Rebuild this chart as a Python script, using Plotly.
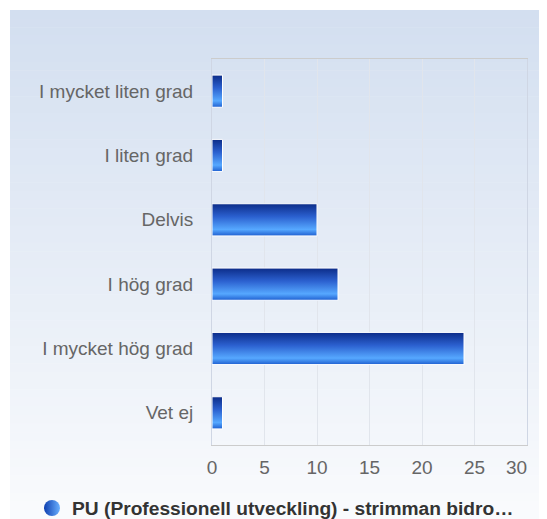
import plotly.graph_objects as go

categories = ["I mycket liten grad", "I liten grad", "Delvis", "I hög grad", "I mycket hög grad", "Vet ej"]
values = [1, 1, 10, 12, 24, 1]
x_ticks = [0, 5, 10, 15, 20, 25, 30]
legend_name = "PU (Professionell utveckling) - strimman bidro…"

W, H = 547, 519
ML, MR, MT, MB = 204, 28, 51, 82
PW, PH = W - ML - MR, H - MT - MB

fig = go.Figure()

half = 0.25
# gradient runs bottom (0) to top (1) on screen
bar_scale = [[0, "#1f5fd0"], [0.2, "#56a8ff"], [0.6, "#2b60cf"], [1, "#0c2c88"]]
for i, (c, v) in enumerate(zip(categories, values)):
    fig.add_trace(go.Scatter(
        x=[0, v, v, 0, 0],
        y=[i - half, i - half, i + half, i + half, i - half],
        mode="lines", fill="toself",
        line=dict(color="white", width=1),
        fillgradient=dict(type="vertical", colorscale=bar_scale),
        showlegend=False, hoverinfo="skip", name=c,
    ))

fig.add_trace(go.Scatter(
    x=[None], y=[None], mode="markers", name=legend_name,
    marker=dict(size=16, color="#0e3fb0", symbol="circle",
                gradient=dict(type="horizontal", color="#6ab0ff"),
                line=dict(width=0)),
    showlegend=True,
))

# background gradient strips
top = (211, 223, 240)
bot = (250, 251, 253)
n = 60
y_top_px, y_bot_px = 2, H
for k in range(n):
    t = k / (n - 1)
    col = tuple(round(top[j] + (bot[j] - top[j]) * t) for j in range(3))
    p0 = y_top_px + (y_bot_px - y_top_px) * k / n
    p1 = y_top_px + (y_bot_px - y_top_px) * (k + 1) / n + 0.5
    fig.add_shape(type="rect", xref="paper", yref="paper",
                  x0=(2 - ML) / PW, x1=(W + 5 - ML) / PW,
                  y0=(H - MB - p1) / PH, y1=(H - MB - p0) / PH,
                  fillcolor="rgb(%d,%d,%d)" % col, line=dict(width=0),
                  layer="below")

tick_text = [str(t) for t in x_ticks]
tick_text[-1] = tick_text[-1] + "\u00a0" * 4  # last label pulled inside the plot

fig.update_layout(
    width=W, height=H,
    margin=dict(l=ML, r=MR, t=MT, b=MB),
    paper_bgcolor="white", plot_bgcolor="rgba(0,0,0,0)",
    font=dict(family="Liberation Sans, Arial, sans-serif", size=19, color="#666666"),
    showlegend=True,
    legend=dict(orientation="h", xref="container", yref="container",
                x=0.5 - 6 / W, xanchor="center", y=1 - 500 / H, yanchor="middle",
                font=dict(size=19.2, color="#333333", weight="bold"),
                bgcolor="rgba(0,0,0,0)", itemsizing="trace", itemwidth=30),
    xaxis=dict(range=[0, 30], tickvals=x_ticks, ticktext=tick_text, automargin=False,
               showgrid=True, gridcolor="#e1e5ec", gridwidth=1, zeroline=False,
               showline=True, linecolor="#cccccc", linewidth=1, mirror=True,
               ticks="outside", ticklen=5, tickcolor="rgba(0,0,0,0)",
               tickfont=dict(size=19, color="#666666"), fixedrange=True),
    yaxis=dict(range=[5.5, -0.5], tickvals=list(range(len(categories))), ticktext=categories,
               automargin=False,
               showgrid=False, zeroline=False,
               showline=True, linecolor="#cfd6e4", linewidth=1, mirror=True,
               ticks="outside", ticklen=14, tickcolor="rgba(0,0,0,0)",
               tickfont=dict(size=19, color="#666666"), fixedrange=True),
)

fig.write_html("out.html")
